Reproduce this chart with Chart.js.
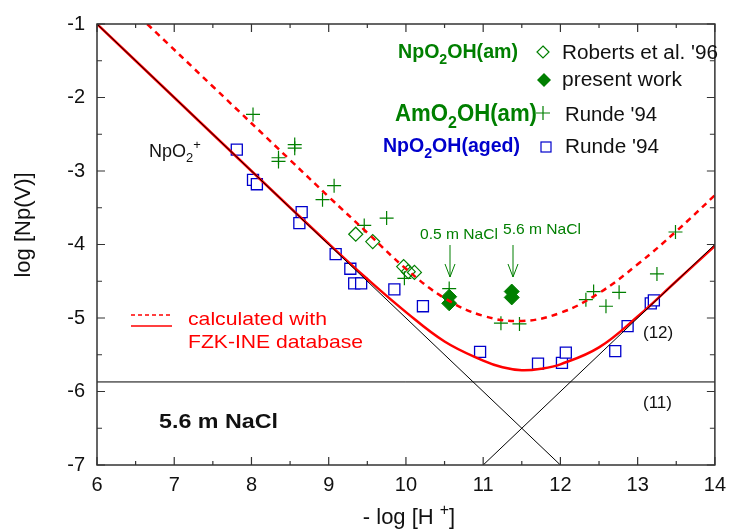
<!DOCTYPE html>
<html>
<head>
<meta charset="utf-8">
<script src="https://cdn.jsdelivr.net/npm/chart.js@4.4.0/dist/chart.umd.min.js"></script>
<style>
  html, body { margin: 0; padding: 0; background: #fff; }
</style>
</head>
<body>
<canvas id="chart" width="734" height="531"></canvas>
<script>
// values
const xRange = [6, 14];
const yRange = [-7, -1];

// NpO2OH(am), Roberts et al. '96
const robertsX = [9.35, 9.57, 9.97, 10.03, 10.11];
const robertsY = [-3.86, -3.96, -4.30, -4.37, -4.38];

// NpO2OH(am), present work
const presentX = [10.56, 10.56, 11.37, 11.37];
const presentY = [-4.71, -4.80, -4.64, -4.72];

// AmO2OH(am), Runde '94
const amX = [8.02, 8.56, 8.56, 8.35, 8.35, 9.07, 8.92, 9.46, 9.75, 9.98, 10.56, 11.23, 11.47, 12.33, 12.43, 12.59, 12.76, 13.25, 13.49];
const amY = [-2.23, -2.64, -2.69, -2.82, -2.87, -3.20, -3.39, -3.74, -3.64, -4.46, -4.60, -5.07, -5.08, -4.75, -4.64, -4.84, -4.65, -4.40, -3.83];

// NpO2OH(aged), Runde '94
const agedX = [7.81, 8.02, 8.07, 8.65, 8.62, 9.09, 9.28, 9.33, 9.42, 9.85, 10.22, 10.96, 11.71, 12.02, 12.07, 12.71, 12.87, 13.17, 13.21];
const agedY = [-2.71, -3.12, -3.18, -3.56, -3.71, -4.13, -4.33, -4.53, -4.53, -4.61, -4.84, -5.46, -5.62, -5.61, -5.47, -5.45, -5.11, -4.80, -4.76];

// calculated with FZK-INE database (solid: aged, dashed: am)
const calcSolidX = [6, 7, 8, 9, 9.5, 10, 10.5, 11, 11.25, 11.5, 11.75, 12, 12.5, 13, 13.5, 14];
const calcSolidY = [-1, -2, -3, -3.99, -4.47, -4.92, -5.32, -5.58, -5.67, -5.71, -5.69, -5.63, -5.40, -4.98, -4.5, -4.02];
const calcDashX = [6.65, 7.5, 8.5, 9, 9.5, 10, 10.5, 11, 11.5, 12, 12.5, 13, 13.5, 14];
const calcDashY = [-1, -1.85, -2.85, -3.35, -3.84, -4.33, -4.73, -4.97, -5.04, -4.93, -4.66, -4.27, -3.82, -3.33];

// straight reference lines: NpO2+ , (11), (12)
const npo2X = [6, 12];
const npo2Y = [-1, -7];
const line11X = [6, 14];
const line11Y = [-5.87, -5.87];
const line12X = [11, 14];
const line12Y = [-7, -4];

const FONT = "'Liberation Sans', Arial, sans-serif";
const GREEN = '#007f00';
const BLUE = '#0000cc';
const RED = '#ff0000';

const pts = (xs, ys) => xs.map((x, i) => ({x: x, y: ys[i]}));

// text with sub/superscripts, optionally squeezed to a width
function rich(ctx, x, y, parts, o) {
  const size = o.size;
  const w = o.weight || 'normal';
  let total = 0;
  parts.forEach(p => {
    const s = p[1] ? size * 0.72 : size;
    ctx.font = w + ' ' + s + 'px ' + FONT;
    p.w = ctx.measureText(p[0]).width;
    total += p.w;
  });
  const sc = o.width ? o.width / total : 1;
  ctx.save();
  ctx.fillStyle = o.color || '#000';
  ctx.textBaseline = 'alphabetic';
  ctx.textAlign = 'left';
  let x0 = x;
  if (o.align === 'center') x0 = x - total * sc / 2;
  ctx.translate(x0, y);
  ctx.scale(sc, 1);
  let cx = 0;
  parts.forEach(p => {
    const s = p[1] ? size * 0.72 : size;
    ctx.font = w + ' ' + s + 'px ' + FONT;
    let dy = 0;
    if (p[1] === 'sub') dy = size * 0.3;
    if (p[1] === 'sup') dy = -size * 0.42;
    ctx.fillText(p[0], cx, dy);
    cx += p.w;
  });
  ctx.restore();
}

const decor = {
  id: 'decor',
  afterDatasetsDraw(chart) {
    const ctx = chart.ctx;
    const a = chart.chartArea;
    const sx = chart.scales.x, sy = chart.scales.y;
    ctx.save();
    // frame
    ctx.strokeStyle = '#333';
    ctx.lineWidth = 1.5;
    ctx.strokeRect(a.left, a.top, a.right - a.left, a.bottom - a.top);
    ctx.lineWidth = 1.2;
    ctx.beginPath();
    for (let v = xRange[0]; v <= xRange[1]; v += 0.5) {
      const px = sx.getPixelForValue(v);
      const len = Number.isInteger(v) ? 8 : 4;
      ctx.moveTo(px, a.bottom); ctx.lineTo(px, a.bottom - len);
      ctx.moveTo(px, a.top); ctx.lineTo(px, a.top + len);
    }
    for (let v = yRange[0]; v <= yRange[1]; v += 0.5) {
      const py = sy.getPixelForValue(v);
      const len = Number.isInteger(v) ? 8 : 5;
      ctx.moveTo(a.left, py); ctx.lineTo(a.left + len, py);
      ctx.moveTo(a.right, py); ctx.lineTo(a.right - len, py);
    }
    ctx.stroke();

    // axis titles
    ctx.save();
    ctx.translate(24, 225);
    ctx.rotate(-Math.PI / 2);
    ctx.font = '22px ' + FONT;
    ctx.fillStyle = '#111';
    ctx.textAlign = 'center';
    ctx.textBaseline = 'middle';
    ctx.fillText('log [Np(V)]', 0, 0);
    ctx.restore();
    rich(ctx, 409, 524, [['- log [H '], ['+', 'sup'], [']']], {size: 22, color: '#111', align: 'center'});

    // legend block
    rich(ctx, 398, 58, [['NpO'], ['2', 'sub'], ['OH(am)']], {size: 21, weight: 'bold', color: GREEN, width: 120});
    rich(ctx, 395, 121, [['AmO'], ['2', 'sub'], ['OH(am)']], {size: 23, weight: 'bold', color: GREEN, width: 142});
    rich(ctx, 383, 152, [['NpO'], ['2', 'sub'], ['OH(aged)']], {size: 21, weight: 'bold', color: BLUE, width: 137});
    rich(ctx, 562, 59, [["Roberts et al. '96"]], {size: 20, color: '#111', width: 156});
    rich(ctx, 562, 86, [['present work']], {size: 20, color: '#111', width: 120});
    rich(ctx, 565, 121, [["Runde '94"]], {size: 20, color: '#111', width: 92});
    rich(ctx, 565, 153, [["Runde '94"]], {size: 20, color: '#111', width: 94});
    ctx.lineWidth = 1.2;
    ctx.strokeStyle = GREEN;
    ctx.fillStyle = GREEN;
    // open diamond
    ctx.beginPath();
    ctx.moveTo(543, 46); ctx.lineTo(549, 52); ctx.lineTo(543, 58); ctx.lineTo(537, 52); ctx.closePath();
    ctx.stroke();
    // filled diamond
    ctx.beginPath();
    ctx.moveTo(544, 73); ctx.lineTo(551, 80); ctx.lineTo(544, 87); ctx.lineTo(537, 80); ctx.closePath();
    ctx.fill();
    // plus
    ctx.beginPath();
    ctx.moveTo(536, 113); ctx.lineTo(550, 113); ctx.moveTo(543, 106); ctx.lineTo(543, 120);
    ctx.stroke();
    // square
    ctx.strokeStyle = BLUE;
    ctx.strokeRect(541, 142, 10, 10);

    // NpO2+
    rich(ctx, 149, 157, [['NpO'], ['2', 'sub'], ['+', 'sup']], {size: 18, color: '#111'});

    // NaCl labels + arrows
    rich(ctx, 420, 239, [['0.5 m NaCl']], {size: 15, color: GREEN, width: 78});
    rich(ctx, 503, 234, [['5.6 m NaCl']], {size: 15, color: GREEN, width: 78});
    ctx.strokeStyle = GREEN;
    ctx.lineWidth = 1;
    [450, 513].forEach(x => {
      ctx.beginPath();
      ctx.moveTo(x, 245); ctx.lineTo(x, 277);
      ctx.moveTo(x - 5, 264); ctx.lineTo(x, 277); ctx.lineTo(x + 5, 264);
      ctx.stroke();
    });

    rich(ctx, 643, 338, [['(12)']], {size: 17, color: '#111'});
    rich(ctx, 643, 408, [['(11)']], {size: 17, color: '#111'});
    rich(ctx, 159, 428, [['5.6 m NaCl']], {size: 21, weight: 'bold', color: '#111', width: 119});

    // calculated legend
    ctx.strokeStyle = RED;
    ctx.lineWidth = 1.5;
    ctx.setLineDash([4, 3]);
    ctx.beginPath(); ctx.moveTo(131, 315); ctx.lineTo(172, 315); ctx.stroke();
    ctx.setLineDash([]);
    ctx.beginPath(); ctx.moveTo(131, 326); ctx.lineTo(172, 326); ctx.stroke();
    rich(ctx, 188, 325, [['calculated with']], {size: 19, color: RED, width: 139});
    rich(ctx, 188, 348, [['FZK-INE database']], {size: 19, color: RED, width: 175});
    ctx.restore();
  }
};

new Chart(document.getElementById('chart'), {
  type: 'scatter',
  data: {
    datasets: [
      {data: pts(npo2X, npo2Y), showLine: true, borderColor: '#000', borderWidth: 1, pointRadius: 0},
      {data: pts(line11X, line11Y), showLine: true, borderColor: '#000', borderWidth: 1, pointRadius: 0},
      {data: pts(line12X, line12Y), showLine: true, borderColor: '#000', borderWidth: 1, pointRadius: 0},
      {data: pts(calcSolidX, calcSolidY), showLine: true, borderColor: RED, borderWidth: 2.5, pointRadius: 0,
       tension: 0.4},
      {data: pts(calcDashX, calcDashY), showLine: true, borderColor: RED, borderWidth: 2.5, borderDash: [6, 5], pointRadius: 0,
       tension: 0.4},
      {label: 'Roberts', data: pts(robertsX, robertsY), pointStyle: 'rectRot', pointRadius: 7,
       borderColor: GREEN, backgroundColor: 'rgba(255,255,255,0)', borderWidth: 1.2},
      {label: 'present', data: pts(presentX, presentY), pointStyle: 'rectRot', pointRadius: 7.5,
       borderColor: GREEN, backgroundColor: GREEN, borderWidth: 1},
      {label: 'Am Runde', data: pts(amX, amY), pointStyle: 'cross', pointRadius: 7,
       borderColor: GREEN, borderWidth: 1.2},
      {label: 'aged Runde', data: pts(agedX, agedY), pointStyle: 'rect', pointRadius: 7.8,
       borderColor: BLUE, backgroundColor: '#fff', borderWidth: 1.3}
    ]
  },
  options: {
    responsive: false,
    animation: false,
    layout: {padding: {top: 20, right: 18, left: 0, bottom: 0}},
    plugins: {legend: {display: false}, tooltip: {enabled: false}},
    scales: {
      x: {
        type: 'linear', min: xRange[0], max: xRange[1],
        grid: {display: false, drawTicks: false},
        border: {display: false},
        ticks: {stepSize: 1, autoSkip: false, maxRotation: 0, padding: 8, color: '#111',
                font: {family: FONT, size: 20}},
        afterFit: s => { s.height = 66; }
      },
      y: {
        type: 'linear', min: yRange[0], max: yRange[1],
        grid: {display: false, drawTicks: false},
        border: {display: false},
        ticks: {stepSize: 1, autoSkip: false, padding: 12, color: '#111',
                font: {family: FONT, size: 20}},
        afterFit: s => { s.width = 97; }
      }
    }
  },
  plugins: [decor]
});
</script>
</body>
</html>
